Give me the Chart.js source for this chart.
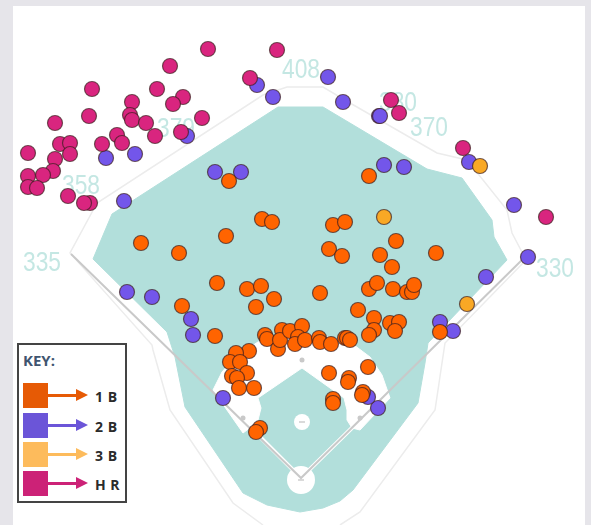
<!DOCTYPE html>
<html lang="en">
<head>
    <meta charset="UTF-8">
    <title>Spray chart</title>
    <script src="https://cdnjs.cloudflare.com/ajax/libs/Chart.js/4.4.1/chart.umd.min.js"></script>
    <style>
        html, body { margin: 0; padding: 0; width: 591px; height: 525px; overflow: hidden; background: #e6e5ea; }
        .panel { position: absolute; left: 13px; top: 6px; width: 572px; height: 519px; background: #fff; }
        .chart-container { position: absolute; left: 0; top: 0; width: 591px; height: 525px; }
        canvas { filter: blur(0.55px); }
        .key {
            position: absolute; left: 17px; top: 343px; width: 106px; height: 156px;
            border: 2px solid #444; background: #fff;
            font-family: 'Open Sans', 'Noto Sans', sans-serif;
        }
        .key-title { position: absolute; left: 4px; top: 5px; font-size: 15px; font-weight: 700; color: #3f5570; }
        .key-row { position: absolute; left: 4px; width: 100px; height: 25px; }
        .key-box { position: absolute; left: 0; top: 0; width: 25px; height: 25px; }
        .key-line { position: absolute; left: 25px; top: 11px; width: 30px; height: 3px; }
        .key-head { position: absolute; left: 53px; top: 6px; width: 0; height: 0; border-top: 6px solid transparent; border-bottom: 6px solid transparent; border-left: 12px solid; }
        .key-label { position: absolute; left: 72px; top: 4px; font-size: 14px; font-weight: 700; letter-spacing: 1.5px; word-spacing: -2px; color: #2b2b2b; line-height: 19px; white-space: nowrap; }
    </style>
</head>
<body>
    <div class="panel"></div>
    <div class="chart-container"><canvas id="spray"></canvas></div>
    <div class="key" id="key"><div class="key-title">KEY:</div></div>

    <script>
        // everything is in picture coordinates, y runs downward
        const hits1B = [[229,181],[141,243],[179,253],[226,236],[262,219],[272,222],[369,176],[333,225],[345,222],[396,241],
            [329,249],[342,256],[380,255],[436,253],[392,267],[320,293],[369,289],[377,283],[393,289],[407,292],[412,292],[414,285],
            [358,310],[374,318],[390,323],[399,322],[395,331],[374,330],[369,335],[440,332],[217,283],[247,289],[261,286],[274,299],
            [256,307],[182,306],[215,336],[265,335],[267,339],[278,349],[282,330],[280,340],[290,331],[302,326],[298,337],[295,344],
            [305,340],[319,338],[320,342],[331,344],[345,338],[347,338],[350,340],[249,351],[236,353],[230,362],[240,362],[247,373],
            [232,376],[237,378],[239,388],[254,388],[260,428],[256,432],[329,373],[368,367],[349,378],[348,382],[363,392],[362,395],
            [333,399],[333,403]];
        const hits2B = [[257,85],[273,97],[187,136],[106,158],[135,154],[215,172],[241,172],[124,201],[328,77],[343,102],[379,116],
            [380,116],[384,165],[404,167],[469,162],[514,205],[528,257],[127,292],[152,297],[191,319],[193,335],[223,398],[486,277],
            [440,322],[453,331],[378,408],[368,397]];
        const hits3B = [[480,166],[384,217],[467,304]];
        const hitsHR = [[208,49],[277,50],[170,66],[250,78],[92,89],[157,89],[183,97],[173,104],[132,102],[89,116],[130,115],[132,120],
            [202,118],[146,123],[55,123],[155,136],[181,132],[117,135],[122,143],[102,144],[60,144],[70,143],[70,154],[28,153],[55,159],
            [53,171],[43,175],[28,176],[28,187],[37,188],[68,196],[90,203],[84,203],[391,100],[399,113],[463,148],[546,217]];

        const grassOutline = [[93,259],[112,214],[278,107],[323,107],[427,169],[462,178],[492,220],[494,237],[507,260],[428,343],[425,363],
            [418,403],[353,490],[340,501],[323,508],[300,512],[267,505],[243,493],[185,407],[175,357],[167,332],[93,259]];
        const dirtOutline = [[213,390],[222,372],[236,356],[258,342],[280,336],[302,334],[325,336],[350,342],[370,357],[382,375],[390,398],
            [360,430],[352,428],[347,420],[347,410],[344,398],[302,368],[258,398],[261,408],[258,420],[247,430],[243,433],[213,390]];
        const wallOutline = [[523,254],[512,233],[507,210],[467,160],[437,153],[350,103],[323,87],[287,87],[263,95],[97,203],[70,253],
            [152,345],[153,350],[170,410],[233,503],[263,525]];
        const wallRight = [[523,263],[445,343],[435,410],[360,512],[340,525]];
        const foulLines = [[71,254],[301,478],[530,252]];
        const baselinePath = [[243,420],[301,478],[360,420]];
        const bases = [[302,360],[243,418],[360,418]];
        const moundAndHome = [[302,422],[301,480]];

        const distanceLabels = ['335', '358', '379', '408', '380', '370', '330'];
        const distanceSpots = [[42,264],[81,187],[176,130],[301,71],[398,104],[429,129],[555,270]];

        const keyLabels = ['1 B', '2 B', '3 B', 'H R'];
        const keyColors = ['#e65a05', '#6b55d8', '#fdbb5c', '#cc2277'];
        const keyTops = [38, 68, 97, 126];

        const toPoints = list => list.map(p => ({ x: p[0], y: p[1] }));

        function hitSet(label, list, color, order) {
            return {
                label: label,
                data: toPoints(list),
                order: order,
                showLine: false,
                pointRadius: 7.5,
                pointBackgroundColor: color,
                pointBorderColor: 'rgba(60, 30, 30, 0.7)',
                pointBorderWidth: 1.2
            };
        }

        function shape(list, color, order) {
            return {
                data: toPoints(list), order: order, showLine: true, fill: 'shape',
                backgroundColor: color, borderColor: color, borderWidth: 1, pointRadius: 0, tension: 0
            };
        }

        function stroke(list, color, width, order) {
            return {
                data: toPoints(list), order: order, showLine: true, fill: false,
                borderColor: color, borderWidth: width, pointRadius: 0, tension: 0
            };
        }

        // distance numbers sit on the field, under the hits
        const distanceText = {
            id: 'distanceText',
            beforeDatasetsDraw(chart) {
                const { ctx, scales } = chart;
                ctx.save();
                ctx.font = '27px "Liberation Sans", sans-serif';
                ctx.fillStyle = '#c4e7e3';
                ctx.textAlign = 'center';
                ctx.textBaseline = 'middle';
                distanceLabels.forEach((text, i) => {
                    // the numbers are condensed in the original, so squeeze them to width
                    ctx.fillText(text, scales.x.getPixelForValue(distanceSpots[i][0]), scales.y.getPixelForValue(distanceSpots[i][1]), 38);
                });
                ctx.restore();
            }
        };

        new Chart(document.getElementById('spray'), {
            type: 'scatter',
            data: {
                datasets: [
                    hitSet('HR', hitsHR, '#d9257f', 1),
                    hitSet('3B', hits3B, '#f9a825', 2),
                    hitSet('1B', hits1B, '#ff6400', 3),
                    hitSet('2B', hits2B, '#7356ea', 4),
                    { data: toPoints(bases), order: 5, showLine: false, pointRadius: 2.5, pointBackgroundColor: '#c9c9c9', pointBorderWidth: 0 },
                    { data: toPoints(moundAndHome), order: 6, showLine: false, pointStyle: 'line', pointRadius: 3, pointBorderColor: '#b5b5b5', pointBorderWidth: 1 },
                    stroke(foulLines, '#c9c9c9', 2, 7),
                    stroke(baselinePath, '#ffffff', 4, 8),
                    { data: toPoints(moundAndHome), order: 9, showLine: false, pointRadius: [8, 14], pointBackgroundColor: '#fff', pointBorderWidth: 0 },
                    shape(dirtOutline, '#ffffff', 10),
                    shape(grassOutline, '#b2dfdb', 11),
                    stroke(wallOutline, '#ececec', 1.5, 12),
                    stroke(wallRight, '#ececec', 1.5, 13)
                ]
            },
            options: {
                responsive: true,
                maintainAspectRatio: false,
                animation: false,
                layout: { padding: 0, autoPadding: false },
                plugins: { legend: { display: false }, tooltip: { enabled: false } },
                scales: {
                    x: { type: 'linear', display: false, min: 0, max: 591 },
                    y: { type: 'linear', display: false, min: 0, max: 525, reverse: true }
                }
            },
            plugins: [distanceText]
        });

        const key = document.getElementById('key');
        keyLabels.forEach((label, i) => {
            const row = document.createElement('div');
            row.className = 'key-row';
            row.style.top = keyTops[i] + 'px';
            row.innerHTML = '<div class="key-box" style="background:' + keyColors[i] + '"></div>' +
                '<div class="key-line" style="background:' + keyColors[i] + '"></div>' +
                '<div class="key-head" style="border-left-color:' + keyColors[i] + '"></div>' +
                '<div class="key-label">' + label + '</div>';
            key.appendChild(row);
        });
    </script>
</body>
</html>
